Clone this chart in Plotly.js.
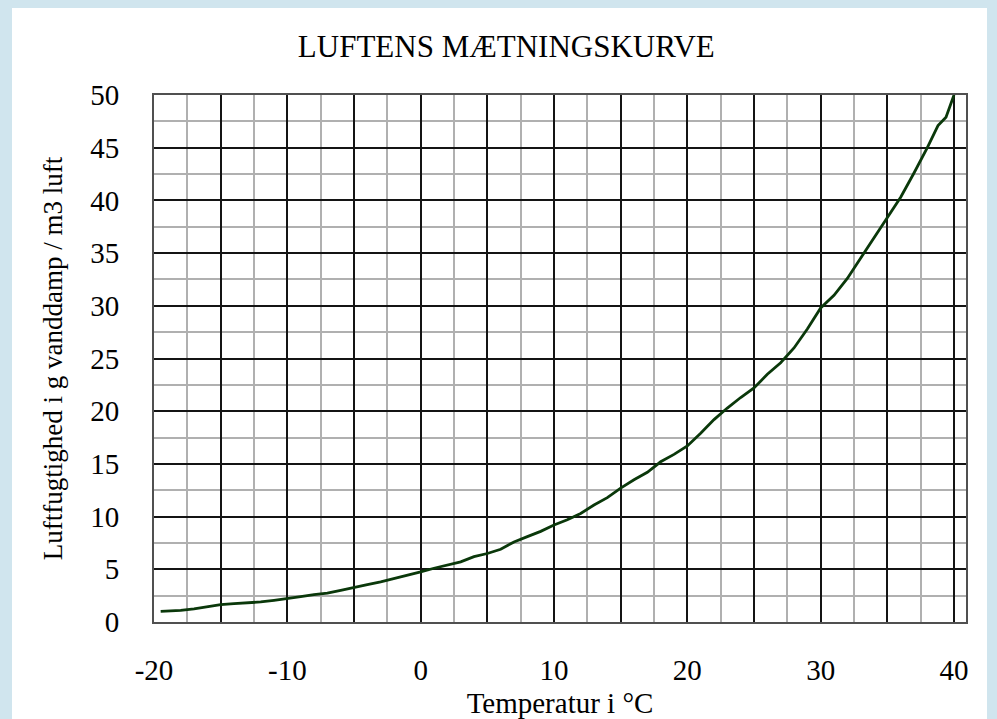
<!DOCTYPE html>
<html>
<head>
<meta charset="utf-8">
<script src="https://cdn.plot.ly/plotly-3.0.1.min.js"></script>
<style>
  html, body { margin: 0; padding: 0; background: #d0e5ee; width: 997px; height: 719px; overflow: hidden; }
  #chart { position: absolute; left: 12px; top: 8px; width: 975px; height: 711px; background: #ffffff; }
</style>
</head>
<body>
<div id="chart"></div>
<script>
// Temperature (°C)
const temperature = [-19.5, -18, -17, -16, -15, -14, -13, -12, -11, -10, -9, -8, -7, -6, -5, -4, -3, -2, -1,
  0, 1, 2, 3, 4, 5, 6, 7, 8, 9, 10, 11, 12, 13, 14, 15, 16, 17, 18, 19, 20,
  21, 22, 23, 24, 25, 26, 27, 28, 29, 30, 31, 32, 33, 34, 35, 36, 37, 38, 38.8, 39.4, 40];
// Saturation humidity (g water vapour / m3 air)
const humidity = [1.0, 1.1, 1.25, 1.45, 1.65, 1.75, 1.8, 1.9, 2.05, 2.2, 2.4, 2.6, 2.75, 3.0, 3.3, 3.55, 3.8, 4.1, 4.4,
  4.75, 5.1, 5.4, 5.7, 6.2, 6.5, 6.9, 7.6, 8.1, 8.6, 9.2, 9.7, 10.3, 11.1, 11.8, 12.7, 13.5, 14.2, 15.2, 15.9, 16.7,
  17.9, 19.2, 20.3, 21.3, 22.2, 23.5, 24.6, 26.0, 27.8, 29.8, 31.0, 32.6, 34.5, 36.4, 38.3, 40.3, 42.6, 45.0, 47.1, 47.9, 50.0];

const xTickVals = [-20, -15, -10, -5, 0, 5, 10, 15, 20, 25, 30, 35, 40];
const xTickText = ['-20', '', '-10', '', '0', '', '10', '', '20', '', '30', '', '40'];
const yTickVals = [0, 5, 10, 15, 20, 25, 30, 35, 40, 45, 50];

const chartTitle = 'LUFTENS MÆTNINGSKURVE';
const xTitle = 'Temperatur i °C';
const yTitle = 'Luftfugtighed i g vanddamp / m3 luft';

const serif = 'Liberation Serif, Times New Roman, serif';

const trace = {
  x: temperature,
  y: humidity,
  type: 'scatter',
  mode: 'lines',
  line: { color: '#0a380a', width: 2.8 },
  hoverinfo: 'skip'
};

// gray half-step grid lines (2.5, 7.5, ...) kept apart from the black 5-step ones
const minorGrid = { tickmode: 'linear', tick0: 2.5, dtick: 5, showgrid: true, gridcolor: '#b0b0b0', gridwidth: 2, ticks: '' };

const layout = {
  width: 975,
  height: 711,
  margin: { l: 142, r: 21, t: 87, b: 97 },
  paper_bgcolor: '#ffffff',
  plot_bgcolor: '#ffffff',
  showlegend: false,
  title: {
    text: chartTitle,
    font: { family: serif, size: 31, color: '#000000' },
    xref: 'container', yref: 'container',
    x: 0.507, y: 0.947, xanchor: 'center', yanchor: 'middle'
  },
  xaxis: {
    range: [-20, 40.9],
    tickmode: 'array',
    tickvals: xTickVals,
    ticktext: xTickText,
    showgrid: true,
    gridcolor: '#141414',
    gridwidth: 2,
    minor: minorGrid,
    zeroline: false,
    showline: true,
    mirror: true,
    linecolor: '#505050',
    linewidth: 2,
    ticks: '',
    ticklabelstandoff: 21,
    tickfont: { family: serif, size: 29, color: '#000000' },
    title: { text: xTitle, font: { family: serif, size: 29, color: '#000000' }, standoff: 11 },
    automargin: false,
    fixedrange: true
  },
  yaxis: {
    range: [0, 50],
    tickmode: 'array',
    tickvals: yTickVals,
    showgrid: true,
    gridcolor: '#141414',
    gridwidth: 2,
    minor: minorGrid,
    zeroline: false,
    showline: true,
    mirror: true,
    linecolor: '#505050',
    linewidth: 2,
    ticks: '',
    ticklabelstandoff: 27,
    tickfont: { family: serif, size: 29, color: '#000000' },
    title: { text: yTitle, font: { family: serif, size: 27, color: '#000000' }, standoff: 20 },
    automargin: false,
    fixedrange: true
  }
};

Plotly.newPlot('chart', [trace], layout, { staticPlot: true, displayModeBar: false });
</script>
</body>
</html>
